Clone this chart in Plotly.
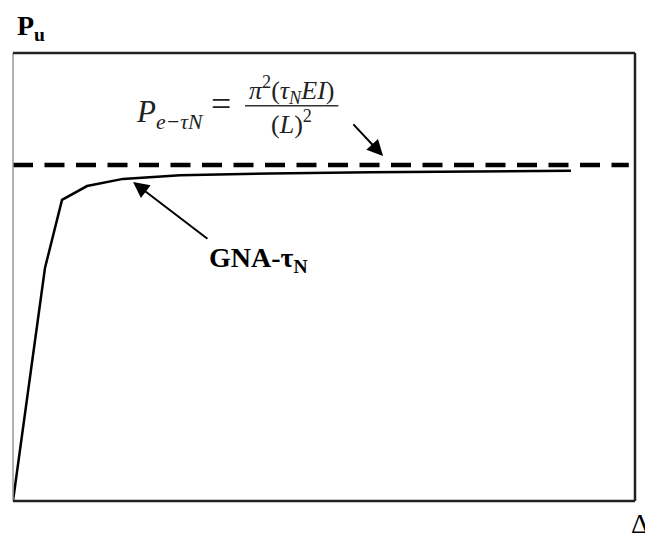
import plotly.graph_objects as go

# Load-deflection response from the GNA-tau_N analysis (normalised units)
disp = [0.0, 5.14, 7.88, 11.9, 17.68, 26.85, 41.3, 57.4, 89.7]
load = [0.0, 52.0, 67.2, 70.3, 71.9, 72.7, 73.1, 73.4, 73.7]

# Elastic buckling load P_e-tauN (horizontal reference level)
pe_level = 75.0
pe_span = [0.0, 99.0]

SERIF = "Liberation Serif"

fig = go.Figure()

fig.add_trace(go.Scatter(
    x=pe_span, y=[pe_level, pe_level], mode="lines",
    line=dict(color="black", width=4.5, dash="20px,11.5px"),
    hoverinfo="skip", showlegend=False,
))
fig.add_trace(go.Scatter(
    x=disp, y=load, mode="lines",
    line=dict(color="black", width=2.5),
    hoverinfo="skip", showlegend=False,
))

# frame around the plotting area
frame = [
    ((0, 0), (0, 1), "#9a9a9a", 1.5),
    ((0, 1), (1, 1), "#222222", 2.5),
    ((1, 1), (1, 0), "#222222", 2.5),
    ((0, 0), (1, 0), "#222222", 2.5),
]
for (x0, y0), (x1, y1), col, w in frame:
    fig.add_shape(type="line", xref="paper", yref="paper",
                  x0=x0, y0=y0, x1=x1, y1=y1,
                  line=dict(color=col, width=w))

# fraction bar of the buckling-load formula
fig.add_shape(type="line", xref="x", yref="y",
              x0=37.3, x1=52.3, y0=88.2, y1=88.2,
              line=dict(color="#333333", width=1.5))

ann = []
# axis captions (placed just outside the frame)
ann.append(dict(x=0.003, y=1.056, xref="paper", yref="paper", xanchor="left", yanchor="middle",
                text="<b>P<sub>u</sub></b>", showarrow=False,
                font=dict(family=SERIF, size=28, color="black")))
ann.append(dict(x=0.991, y=-0.05, xref="paper", yref="paper", xanchor="left", yanchor="middle",
                text="Δ", showarrow=False,
                font=dict(family=SERIF, size=28, color="black")))
# formula
ann.append(dict(x=19.4, y=86.3, xref="x", yref="y", xanchor="left", yanchor="middle",
                text="<i>P<sub>e−τN</sub></i>", showarrow=False,
                font=dict(family=SERIF, size=31, color="#222222")))
ann.append(dict(x=33.5, y=88.6, xref="x", yref="y", xanchor="center", yanchor="middle",
                text="=", showarrow=False,
                font=dict(family=SERIF, size=36, color="#222222")))
ann.append(dict(x=44.8, y=91.8, xref="x", yref="y", xanchor="center", yanchor="middle",
                text="<i>π</i><sup>2</sup>(<i>τ<sub>N</sub>EI</i>)", showarrow=False,
                font=dict(family=SERIF, size=26, color="#222222")))
ann.append(dict(x=44.8, y=84.4, xref="x", yref="y", xanchor="center", yanchor="middle",
                text="(<i>L</i>)<sup>2</sup>", showarrow=False,
                font=dict(family=SERIF, size=26, color="#222222")))
# curve label
ann.append(dict(x=31.2, y=54.0, xref="x", yref="y", xanchor="left", yanchor="middle",
                text="<b>GNA-τ<sub>N</sub></b>", showarrow=False,
                font=dict(family=SERIF, size=28, color="black")))
# leader arrows
ann.append(dict(x=59.5, y=77.0, ax=54.5, ay=84.4, xref="x", yref="y",
                axref="x", ayref="y", text="", showarrow=True,
                arrowhead=2, arrowsize=1.6, arrowwidth=2, arrowcolor="black",
                standoff=0, startstandoff=0))
ann.append(dict(x=19.3, y=71.2, ax=31.5, ay=58.3, xref="x", yref="y",
                axref="x", ayref="y", text="", showarrow=True,
                arrowhead=2, arrowsize=1.6, arrowwidth=2, arrowcolor="black",
                standoff=0, startstandoff=0))

fig.update_layout(
    width=645, height=536,
    margin=dict(l=13, r=10, t=53, b=35),
    paper_bgcolor="white", plot_bgcolor="white",
    xaxis=dict(range=[0, 100], visible=False, fixedrange=True),
    yaxis=dict(range=[0, 100], visible=False, fixedrange=True),
    annotations=ann,
    showlegend=False,
)

fig.write_html("out.html", config={"displayModeBar": False})
